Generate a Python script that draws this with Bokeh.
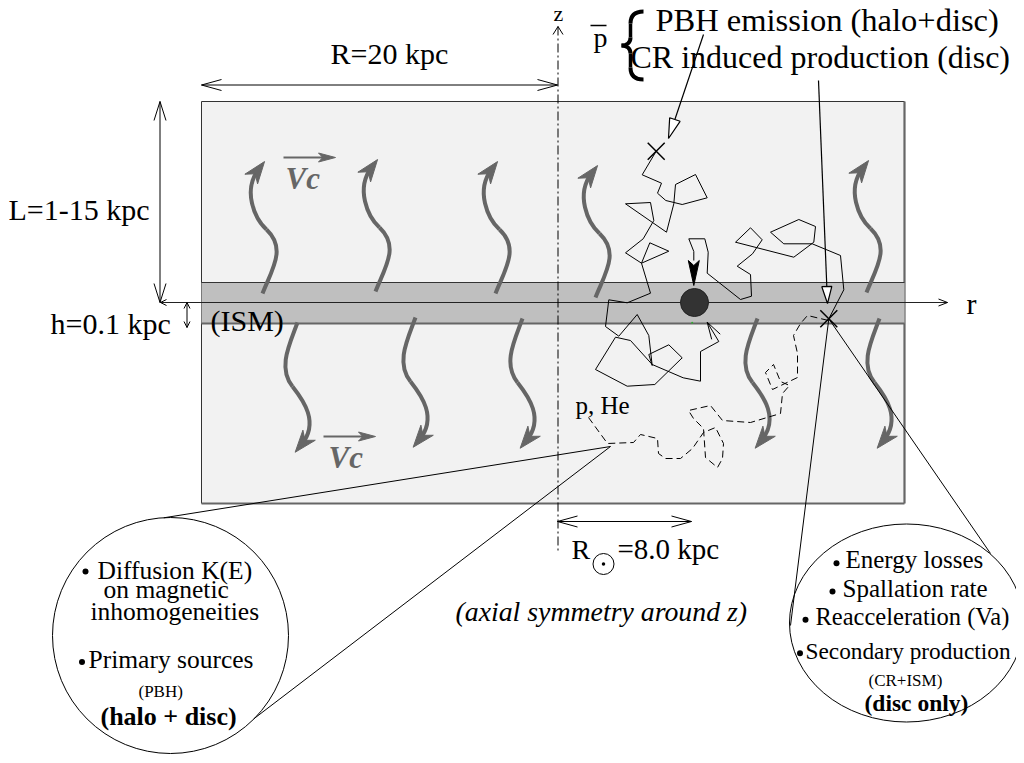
import math
from bokeh.plotting import figure
from bokeh.models import Range1d
from bokeh.core.properties import value
from bokeh.embed import file_html
from bokeh.resources import INLINE

SERIF = "Liberation Serif"

# ---------------- diagram geometry (page pixel coordinates) ----------------
HALO_BOX = [201, 101, 904, 503]      # left, top, right, bottom
DISC_BOX = [201, 282, 904, 323]
R_AXIS_Y = 302
R_AXIS_X = [160, 947]
Z_AXIS_X = 557.5
Z_AXIS_Y = [26, 552]

# convective wind arrows (grey, S-shaped)
UP_X = [262, 375, 495, 595, 866]
UP_Y = [293, 291, 293, 297, 292]
DOWN_X = [297, 415, 522, 757, 879]
DOWN_Y = [322, 317, 318, 318, 318]
UP_TEMPLATE = [(0, 0, 10, -25, 24, -45, 4, -64), (4, -64, -8, -75, -20, -103, -4, -124)]
DOWN_TEMPLATE = [(0, 0, -8, 22, -20, 45, -5, 64), (-5, 64, 6, 78, 22, 100, 4, 122)]

# random walk of a PBH antiproton (solid)
PBH_WALK_X = [655.7, 641.7, 661, 657, 665.3, 681.7, 706.7, 695, 675, 673.3, 666, 625, 650, 653.3,
              642.7, 625, 641, 668.3, 649.3, 641, 650, 626.7, 608.3, 605, 618.3, 636.7, 648.3, 651.7,
              648.3, 668.3, 681.7, 654.3, 626.7, 595, 615, 630, 651.7, 682.7, 700, 700, 718.3, 706.7]
PBH_WALK_Y = [150.7, 174.3, 182.7, 192.7, 200, 204, 197.3, 174, 184, 203.3, 231.7, 203.3, 202, 220,
              238.3, 252.3, 262.7, 250.7, 242.3, 262.7, 292.7, 302.3, 299.3, 326, 335.7, 314, 335, 365,
              354, 344.3, 357.3, 384, 385.7, 369, 336.7, 340, 364, 377.3, 380.7, 351, 341, 321.7]

# random walk of a CR-induced antiproton (solid)
CR_WALK_X = [693.3, 693.3, 688.3, 704.3, 707.7, 706.7, 740, 751, 750, 736.7, 752, 761.7, 750, 735,
             793.3, 813.3, 815, 798.3, 770, 783.3, 811.7, 840, 843.3, 828.3]
CR_WALK_Y = [260, 251, 238.3, 238.3, 251.7, 272.7, 299, 295.7, 274, 265.7, 253.3, 239.3, 227.3, 241.7,
             256.7, 241.7, 226, 219, 231.7, 243.3, 243.3, 255, 289.3, 318.3]

# random walk of primary p, He (dashed)
PRIM_WALK_X = [588, 607, 633, 640, 657, 658, 665, 680, 692, 703, 715, 723, 722, 717, 705, 703, 693,
               688, 710, 722, 750, 780, 782, 789, 780, 773, 765, 772, 797, 797, 793, 800, 807, 828]
PRIM_WALK_Y = [417, 443, 442, 434, 438, 453, 458, 458, 448, 432, 427, 443, 458, 467, 457, 428, 418,
               410, 405, 420, 422, 413, 393, 385, 381, 364, 372, 389, 377, 353, 335, 323, 315, 320]

# zoom circles
LEFT_CIRCLE = (170, 635, 118)           # x, y, radius
RIGHT_ELLIPSE = (906, 622.5, 234, 198)  # x, y, width, height
LEFT_FOCUS = (610, 446)
LEFT_TANGENTS = [(163.3, 517.3), (253.3, 718.3)]
RIGHT_FOCUS = (828.3, 318.3)
RIGHT_TANGENTS = [(790, 625), (990, 553)]

SOURCE_X = [655.7, 828.3]
SOURCE_Y = [150.7, 318.3]
SUN = (694, 302, 14)

# texts: string, x (left), y (baseline), size px, style, colour
TEXTS = [
    ("R=20 kpc", 330, 63, 30, "normal", "black"),
    ("L=1-15 kpc", 8, 219, 30, "normal", "black"),
    ("h=0.1 kpc", 50, 333, 30, "normal", "black"),
    ("(ISM)", 210, 330, 30, "normal", "black"),
    ("r", 966, 313, 30, "normal", "black"),
    ("z", 553, 20, 22, "normal", "black"),
    ("p", 593, 46, 28, "normal", "black"),
    ("PBH emission (halo+disc)", 655, 30, 32.5, "normal", "black"),
    ("CR induced production (disc)", 630, 67, 32, "normal", "black"),
    ("p, He", 575, 413, 25, "normal", "black"),
    ("R", 571, 558, 28, "normal", "black"),
    ("=8.0 kpc", 617, 558, 29, "normal", "black"),
    ("(axial symmetry around z)", 455, 620, 27.8, "italic", "black"),
    ("Vc", 285, 188, 31, "bold italic", "#666666"),
    ("Vc", 328, 467, 31, "bold italic", "#666666"),
    ("Diffusion K(E)", 97, 578, 25.5, "normal", "black"),
    ("on magnetic", 103, 597, 25.5, "normal", "black"),
    ("inhomogeneities", 90, 619, 25.5, "normal", "black"),
    ("Primary sources", 88, 667, 25.5, "normal", "black"),
    ("(PBH)", 138, 696, 17, "normal", "black"),
    ("(halo + disc)", 100, 724, 26, "bold", "black"),
    ("Energy losses", 845, 567, 25, "normal", "black"),
    ("Spallation rate", 842, 596, 25, "normal", "black"),
    ("Reacceleration (Va)", 815, 624, 24.5, "normal", "black"),
    ("Secondary production", 805, 658, 23.3, "normal", "black"),
    ("(CR+ISM)", 868, 685, 17, "normal", "black"),
    ("(disc only)", 864, 710, 23.5, "bold", "black"),
]
BASELINE_FIX = 0.32   # renderer places alphabetic baseline this many em too low
BULLET_X = [85, 81.5, 836, 832, 805, 799.5]
BULLET_Y = [571, 661.5, 562.7, 591, 619.3, 652.7]

# dimension arrows (double headed): x0, y0, x1, y1, head length, head half-width
DIM_ARROWS = [
    (201, 84.5, 557, 84.5, 20, 5.5),
    (159.5, 101, 159.5, 302, 19, 6),
    (557, 521, 691, 521, 20, 5.5),
    (186.5, 302, 186.5, 327, 6, 3),
]
# leader lines with hollow heads: x0, y0, x1 (tip), y1 (tip), L, W
LEADERS = [
    (703, 34, 668, 138, 20, 5.5),
    (818, 80, 827, 303, 17, 5),
]
VC_ARROWS = [(283, 157, 335, 157), (323, 436, 375, 436)]

# ---------------- helpers ----------------
def unit(x0, y0, x1, y1):
    dx, dy = x1 - x0, y1 - y0
    n = math.hypot(dx, dy)
    return dx / n, dy / n


def head_pts(tx, ty, ux, uy, L, W, notch=None):
    bx, by = tx - L * ux, ty - L * uy
    px, py = -uy, ux
    lx, ly = bx + W * px, by + W * py
    rx, ry = bx - W * px, by - W * py
    if notch is None:
        return [lx, tx, rx], [ly, ty, ry]
    nx, ny = tx - notch * L * ux, ty - notch * L * uy
    return [tx, lx, nx, rx], [ty, ly, ny, ry]


p = figure(width=1016, height=755, x_range=Range1d(0, 1016), y_range=Range1d(755, 0),
           x_axis_type=None, y_axis_type=None, toolbar_location=None,
           output_backend="svg", min_border=0, outline_line_color=None)
p.background_fill_color = "white"
p.border_fill_color = "white"

# halo and disc
l, t, r, b = HALO_BOX
p.quad(left=[l], right=[r], top=[t], bottom=[b], fill_color="#f2f2f2", line_color=None)
p.segment(x0=[l, l], y0=[t, t], x1=[r, l], y1=[t, b], line_color="#333333", line_width=1)
p.segment(x0=[r, l], y0=[t, b], x1=[r, r], y1=[b, b], line_color="#666666", line_width=2.2)
l, t, r, b = DISC_BOX
p.quad(left=[l], right=[r], top=[t], bottom=[b], fill_color="#bfbfbf", line_color=None)
p.segment(x0=[l], y0=[t], x1=[r], y1=[t], line_color="#333333", line_width=1)
p.segment(x0=[l], y0=[b], x1=[r], y1=[b], line_color="#666666", line_width=2.2)
p.segment(x0=[R_AXIS_X[0]], y0=[R_AXIS_Y], x1=[R_AXIS_X[1]], y1=[R_AXIS_Y],
          line_color="#222222", line_width=1)

# z axis (dash-dot)
p.segment(x0=[Z_AXIS_X], y0=[Z_AXIS_Y[0]], x1=[Z_AXIS_X], y1=[Z_AXIS_Y[1]],
          line_color="black", line_width=1, line_dash="9 3 2 3")

open_xs, open_ys = [], []


def add_open(tx, ty, fx, fy, L, W):
    ux, uy = unit(fx, fy, tx, ty)
    xs, ys = head_pts(tx, ty, ux, uy, L, W)
    open_xs.append(xs)
    open_ys.append(ys)


add_open(Z_AXIS_X, Z_AXIS_Y[0], Z_AXIS_X, Z_AXIS_Y[1], 8, 5)
add_open(R_AXIS_X[1], R_AXIS_Y, R_AXIS_X[0], R_AXIS_Y, 9, 3.5)
add_open(R_AXIS_X[0], R_AXIS_Y, R_AXIS_X[1], R_AXIS_Y, 6, 3)

for x0, y0, x1, y1, L, W in DIM_ARROWS:
    p.segment(x0=[x0], y0=[y0], x1=[x1], y1=[y1], line_color="black", line_width=1)
    add_open(x0, y0, x1, y1, L, W)
    add_open(x1, y1, x0, y0, L, W)

# grey wind arrows
bz = {k: [] for k in ("x0", "y0", "cx0", "cy0", "cx1", "cy1", "x1", "y1")}
grey_hx, grey_hy = [], []


def add_wind(bx, by, template):
    for (a, b_, c, d, e, f, g, h) in template:
        bz["x0"].append(bx + a); bz["y0"].append(by + b_)
        bz["cx0"].append(bx + c); bz["cy0"].append(by + d)
        bz["cx1"].append(bx + e); bz["cy1"].append(by + f)
        bz["x1"].append(bx + g); bz["y1"].append(by + h)
    a, b_, c, d, e, f, g, h = template[-1]
    ux, uy = unit(e, f, g, h)
    tx, ty = bx + g + 10 * ux, by + h + 10 * uy
    xs, ys = head_pts(tx, ty, ux, uy, 22, 8, notch=0.7)
    grey_hx.append(xs); grey_hy.append(ys)


for x, y in zip(UP_X, UP_Y):
    add_wind(x, y, UP_TEMPLATE)
for x, y in zip(DOWN_X, DOWN_Y):
    add_wind(x, y, DOWN_TEMPLATE)
p.bezier(x0=bz["x0"], y0=bz["y0"], x1=bz["x1"], y1=bz["y1"], cx0=bz["cx0"], cy0=bz["cy0"],
         cx1=bz["cx1"], cy1=bz["cy1"], line_color="#666666", line_width=4)

# Vc labels arrows
for x0, y0, x1, y1 in VC_ARROWS:
    p.segment(x0=[x0], y0=[y0], x1=[x1 - 8], y1=[y1], line_color="#666666", line_width=1.8)
    ux, uy = unit(x0, y0, x1, y1)
    xs, ys = head_pts(x1, y1, ux, uy, 17, 4.5, notch=0.75)
    grey_hx.append(xs); grey_hy.append(ys)
p.patches(grey_hx, grey_hy, fill_color="#666666", line_color="#666666", line_width=1)

# random walks
p.line(PBH_WALK_X, PBH_WALK_Y, line_color="black", line_width=1)
p.line(CR_WALK_X, CR_WALK_Y, line_color="black", line_width=1)
p.line(PRIM_WALK_X, PRIM_WALK_Y, line_color="black", line_width=1, line_dash="7 4")

# Sun (observer)
p.circle(x=[SUN[0]], y=[SUN[1]], radius=SUN[2], fill_color="#333333", line_color="#222222",
         line_width=1)
p.scatter(x=[691.7], y=[322.3], size=2, marker="circle", fill_color="#33aa33", line_color=None)
ux, uy = unit(693.3, 251, 693.3, 285)
xs, ys = head_pts(693.3, 285, ux, uy, 25, 5.5, notch=0.8)
p.patch(xs, ys, fill_color="black", line_color="black", line_width=1)
add_open(706.7, 321.7, 718.3, 341, 17, 5)

# sources
p.scatter(x=SOURCE_X, y=SOURCE_Y, marker="x", size=24, line_color="black", line_width=1.5)

# leader lines
for x0, y0, x1, y1, L, W in LEADERS:
    ux, uy = unit(x0, y0, x1, y1)
    p.segment(x0=[x0], y0=[y0], x1=[x1 - L * ux], y1=[y1 - L * uy], line_color="black",
              line_width=1.2)
    xs, ys = head_pts(x1, y1, ux, uy, L, W)
    p.patch(xs, ys, fill_color="white", line_color="black", line_width=1.2)

# zoom lines and circles
fx, fy = LEFT_FOCUS
p.segment(x0=[fx, fx], y0=[fy, fy], x1=[q[0] for q in LEFT_TANGENTS],
          y1=[q[1] for q in LEFT_TANGENTS], line_color="black", line_width=1)
fx, fy = RIGHT_FOCUS
p.segment(x0=[fx, fx], y0=[fy, fy], x1=[q[0] for q in RIGHT_TANGENTS],
          y1=[q[1] for q in RIGHT_TANGENTS], line_color="black", line_width=1)
p.circle(x=[LEFT_CIRCLE[0]], y=[LEFT_CIRCLE[1]], radius=LEFT_CIRCLE[2], fill_color=None,
         line_color="black", line_width=1)
p.ellipse(x=[RIGHT_ELLIPSE[0]], y=[RIGHT_ELLIPSE[1]], width=RIGHT_ELLIPSE[2],
          height=RIGHT_ELLIPSE[3], fill_color=None, line_color="black", line_width=1)

p.multi_line(open_xs, open_ys, line_color="black", line_width=1)

# brace
p.bezier(x0=[643, 630, 621, 630], y0=[11, 37, 45, 67], x1=[630, 621, 630, 643],
         y1=[23, 45, 53, 79], cx0=[634, 630, 626, 630], cy0=[11, 42, 45, 75],
         cx1=[630, 626, 630, 634], cy1=[15, 45, 48, 79], line_color="black", line_width=4)
p.segment(x0=[630, 630], y0=[23, 53], x1=[630, 630], y1=[37, 67], line_color="black",
          line_width=3.5)
# bar over p
p.segment(x0=[590], y0=[25], x1=[606], y1=[25], line_color="black", line_width=1.5)

# solar symbol
p.circle(x=[603], y=[563.5], radius=10.5, fill_color=None, line_color="black", line_width=1)
p.scatter(x=[603], y=[563.5], size=3.5, marker="circle", fill_color="black", line_color=None)

# bullets
p.scatter(x=BULLET_X, y=BULLET_Y, size=6, marker="circle", fill_color="black", line_color=None)

for txt, x, y, size, style, col in TEXTS:
    p.text(x=[x], y=[y - BASELINE_FIX * size], text=[txt], text_font=value(SERIF),
           text_font_size=value(f"{size}px"), text_font_style=style, text_color=col,
           text_align="left", text_baseline="alphabetic")

open("out.html", "w").write(file_html(p, INLINE))
